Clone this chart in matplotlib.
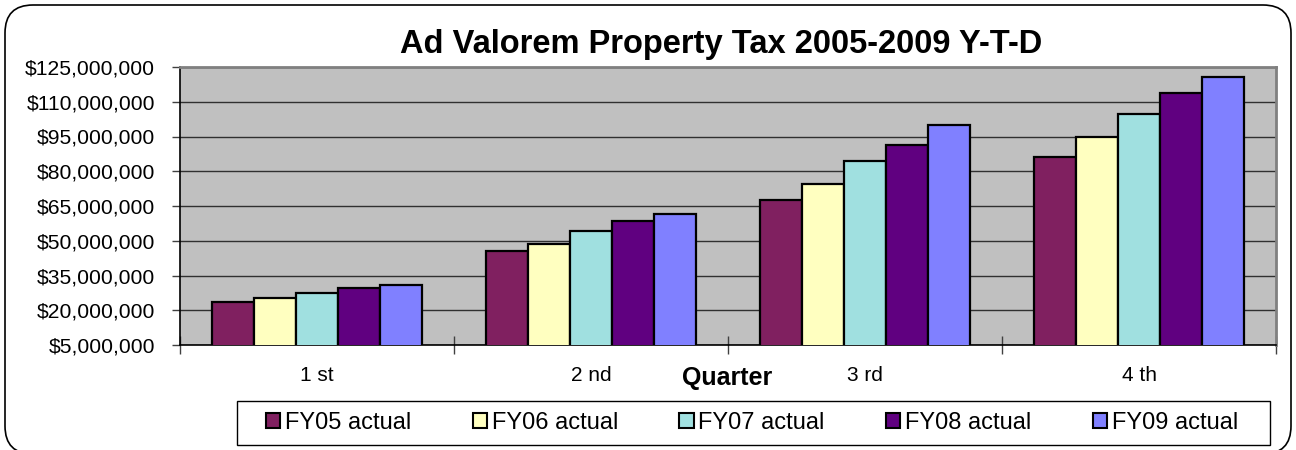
import matplotlib
matplotlib.use("Agg")
import matplotlib.pyplot as plt
import numpy as np
from matplotlib.patches import FancyBboxPatch, Patch, Rectangle
from matplotlib.ticker import FuncFormatter, FixedLocator

plt.rcParams['font.family'] = ['Liberation Sans', 'DejaVu Sans']

quarters = ["1 st", "2 nd", "3 rd", "4 th"]
series_names = ["FY05 actual", "FY06 actual", "FY07 actual", "FY08 actual", "FY09 actual"]
fy05 = [23.7e6, 45.4e6, 67.7e6, 86.3e6]
fy06 = [25.2e6, 48.5e6, 74.4e6, 94.6e6]
fy07 = [27.6e6, 54.0e6, 84.4e6, 104.5e6]
fy08 = [29.7e6, 58.4e6, 91.5e6, 113.7e6]
fy09 = [31.0e6, 61.5e6, 99.8e6, 120.7e6]
y_ticks = [5e6, 20e6, 35e6, 50e6, 65e6, 80e6, 95e6, 110e6, 125e6]
colors = ["#802060", "#FFFFC0", "#A0E0E0", "#600080", "#8080FF"]

series = [fy05, fy06, fy07, fy08, fy09]

W, H = 1296, 450
fig = plt.figure(figsize=(W/100, H/100), dpi=100)

# outer rounded frame
frame = FancyBboxPatch((0.05, -0.04), 12.86, 4.49,
                       boxstyle="round,pad=0,rounding_size=0.28",
                       transform=fig.dpi_scale_trans, facecolor="white",
                       edgecolor="black", linewidth=1.2, zorder=-5)
fig.patches.append(frame)

ax = fig.add_axes([180/W, 1-345/H, (1276-180)/W, (345-67)/H])
ax.set_facecolor("#C0C0C0")

n = len(series)
width = 1.0 / (n + 1.5)
x = np.arange(len(quarters))
for i, (vals, c, name) in enumerate(zip(series, colors, series_names)):
    offs = (i - (n - 1) / 2) * width
    ax.bar(x + offs, vals, width=width, color=c, edgecolor="black",
           linewidth=1.6, label=name, zorder=3)

ax.set_ylim(y_ticks[0], y_ticks[-1])
ax.set_xlim(-0.5, len(quarters) - 0.5)
ax.yaxis.set_major_locator(FixedLocator(y_ticks))
ax.yaxis.set_major_formatter(FuncFormatter(lambda v, p: "${:,.0f}".format(v)))
ax.grid(axis="y", color="#303030", linewidth=1.0, zorder=1)
ax.set_axisbelow(True)

ax.set_xticks(x)
ax.set_xticklabels(quarters)
ax.xaxis.set_minor_locator(FixedLocator(np.arange(-0.5, len(quarters), 1.0)))
ax.tick_params(axis="x", which="major", length=0, pad=15, labelsize=15)
ax.tick_params(axis="x", which="minor", length=13, direction="inout", width=1, color="#404040")
ax.tick_params(axis="y", length=6, width=1, pad=12, labelsize=15.2, color="#404040")

for s in ["top", "right"]:
    ax.spines[s].set_color("#808080")
    ax.spines[s].set_linewidth(2)
ax.spines["left"].set_color("black")
ax.spines["bottom"].set_color("black")
ax.spines["left"].set_linewidth(1.2)
ax.spines["bottom"].set_linewidth(1.2)

fig.text(721/W, 1-45/H, "Ad Valorem Property Tax 2005-2009 Y-T-D",
         ha="center", va="center", fontsize=23.5, fontweight="bold")
fig.text(727/W, 1-378/H, "Quarter", ha="center", va="center",
         fontsize=18, fontweight="bold")

# legend box
fig.patches.append(Rectangle((237/W, 1-445/H), (1270-237)/W, (445-401)/H,
                             transform=fig.transFigure, facecolor="white",
                             edgecolor="black", linewidth=1.0, zorder=1))
handles = [Patch(facecolor=c, edgecolor="black", linewidth=1.5) for c in colors]
leg = fig.legend(handles, series_names, loc="center",
                 bbox_to_anchor=(752/W, 1-423/H), ncol=5, fontsize=17,
                 frameon=False,
                 handlelength=0.6, handleheight=0.6, handletextpad=0.2,
                 columnspacing=2.6, borderpad=0.2)
leg.set_zorder(2)

fig.savefig("out.png", dpi=100)
